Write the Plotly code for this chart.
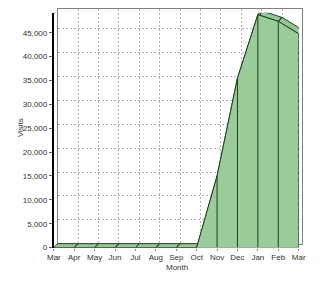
import plotly.graph_objects as go

months = ["Mar", "Apr", "May", "Jun", "Jul", "Aug", "Sep", "Oct", "Nov", "Dec", "Jan", "Feb", "Mar"]
visits = [0, 0, 0, 0, 0, 0, 0, 0, 15000, 35500, 48800, 47400, 44800]
y_ticks = [0, 5000, 10000, 15000, 20000, 25000, 30000, 35000, 40000, 45000]

W, H = 320, 284
R = 49200
n = len(months)
xs = list(range(n))
# 3D depth (4px right, 4px up) expressed in data units of the front axes
front_px = (49, 305, 252, 13)  # left, right, bottom, top
dx = 4 * (n - 1) / (front_px[1] - front_px[0])
dy = 4 * R / (front_px[2] - front_px[3])

FILL = "#99cc99"
TOP = "#93c793"
SIDE = "#6f9f6f"
EDGE = "#1f3f1f"

fig = go.Figure()
# dummy trace for back wall subplot
fig.add_trace(go.Scatter(x=[None], y=[None], xaxis="x", yaxis="y", showlegend=False, hoverinfo="skip"))

# top faces
tx, ty = [], []
for i in range(n - 1):
    tx += [xs[i], xs[i + 1], xs[i + 1] + dx, xs[i] + dx, xs[i], None]
    ty += [visits[i], visits[i + 1], visits[i + 1] + dy, visits[i] + dy, visits[i], None]
fig.add_trace(go.Scatter(x=tx, y=ty, xaxis="x2", yaxis="y2", mode="lines", fill="toself",
                         fillcolor=TOP, line=dict(color=EDGE, width=1), showlegend=False,
                         hoverinfo="skip", cliponaxis=False))
# right side face
last = n - 1
fig.add_trace(go.Scatter(x=[xs[last], xs[last], xs[last] + dx, xs[last] + dx, xs[last]],
                         y=[0, visits[last], visits[last] + dy, dy, 0],
                         xaxis="x2", yaxis="y2", mode="lines", fill="toself", fillcolor=SIDE,
                         line=dict(color=EDGE, width=1, dash="dot"), showlegend=False,
                         hoverinfo="skip", cliponaxis=False))
# front face
fig.add_trace(go.Scatter(x=xs, y=visits, xaxis="x2", yaxis="y2", mode="lines", fill="tozeroy",
                         fillcolor=FILL, line=dict(color=EDGE, width=1), showlegend=False,
                         hoverinfo="skip", cliponaxis=False))
# vertical edges
vx, vy = [], []
for i in range(n):
    if visits[i] > 0:
        vx += [xs[i], xs[i], None]
        vy += [0, visits[i], None]
fig.add_trace(go.Scatter(x=vx, y=vy, xaxis="x2", yaxis="y2", mode="lines",
                         line=dict(color=EDGE, width=1), showlegend=False, hoverinfo="skip",
                         cliponaxis=False))
# front bottom edge
fig.add_trace(go.Scatter(x=[xs[0], xs[last]], y=[0, 0], xaxis="x2", yaxis="y2", mode="lines",
                         line=dict(color="#3f6f3f", width=1), showlegend=False, hoverinfo="skip",
                         cliponaxis=False))

font = dict(family="Liberation Sans, Arial, sans-serif", size=8, color="#333333")

fig.update_layout(
    width=W, height=H,
    margin=dict(l=0, r=0, t=0, b=0),
    paper_bgcolor="white", plot_bgcolor="rgba(0,0,0,0)",
    font=font,
    xaxis=dict(domain=[53 / W, 309 / W], range=[0, n - 1], tickvals=xs, showticklabels=False,
               showgrid=True, gridcolor="#b4b4b4", griddash="2px,2px", gridwidth=1,
               zeroline=False, showline=True, mirror=True, linecolor="#808080", linewidth=1,
               ticks="", anchor="y", fixedrange=True),
    yaxis=dict(domain=[(H - 248) / H, (H - 9) / H], range=[0, R], tickvals=y_ticks,
               showticklabels=False, showgrid=True, gridcolor="#b4b4b4", griddash="2px,2px",
               gridwidth=1, zeroline=False, showline=True, mirror=True, linecolor="#808080",
               linewidth=1, ticks="", anchor="x", fixedrange=True),
    xaxis2=dict(domain=[front_px[0] / W, front_px[1] / W], range=[0, n - 1], tickvals=xs,
                ticktext=months, showgrid=False, zeroline=False, showline=False,
                ticks="outside", ticklen=2, tickcolor="#888888", anchor="y2",
                tickfont=font, fixedrange=True),
    yaxis2=dict(domain=[(H - front_px[2]) / H, (H - front_px[3]) / H], range=[0, R],
                tickvals=y_ticks, tickformat=",d", showgrid=False, zeroline=False,
                showline=True, linecolor="black", linewidth=2, ticks="outside", ticklen=3,
                tickcolor="#666666", anchor="x2", tickfont=font, fixedrange=True),
    annotations=[
        dict(text="Visits", x=14 / W, y=(H - 130) / H, xref="paper", yref="paper",
             xanchor="center", yanchor="middle",
             textangle=-90, showarrow=False, font=font),
        dict(text="Month", x=178 / W, y=(H - 272) / H, xref="paper", yref="paper",
             xanchor="center", yanchor="middle",
             showarrow=False, font=font),
    ],
    shapes=[
        dict(type="line", xref="x2", yref="y2", x0=0, y0=R, x1=dx, y1=R + dy,
             line=dict(color="black", width=2)),
    ],
)

fig.write_html("out.html")
